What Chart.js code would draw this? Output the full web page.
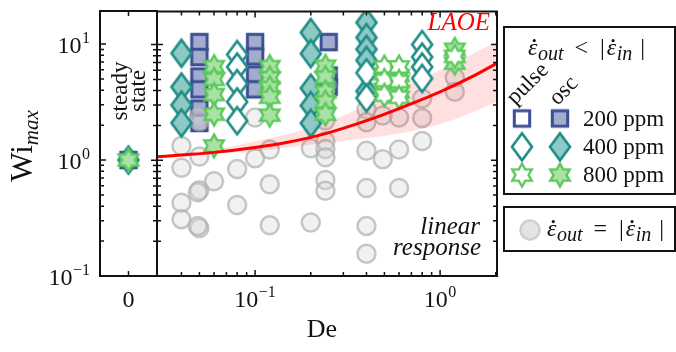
<!DOCTYPE html>
<html>
<head>
<meta charset="utf-8">
<script src="https://cdn.jsdelivr.net/npm/chart.js@4.4.1/dist/chart.umd.min.js"></script>
<style>
  body { margin: 0; background: #fff; }
  #wrap { position: relative; width: 676px; height: 352px; }
  #wrap canvas { position: absolute; left: 0; top: 0; }
</style>
</head>
<body>
<div id="wrap">
  <canvas id="steady" width="676" height="352"></canvas>
  <canvas id="main" width="676" height="352"></canvas>
</div>
<script>
// axis ranges
const deRange = [0.0295, 2.03];
const wiRange = [0.1, 19.3];

// tick positions
const wiMajor = [0.1, 1, 10];
const wiMinor = [0.2, 0.3, 0.4, 0.5, 0.6, 0.7, 0.8, 0.9, 2, 3, 4, 5, 6, 7, 8, 9];
const deMajor = [0.1, 1];
const deMinor = [0.04, 0.05, 0.06, 0.07, 0.08, 0.09, 0.2, 0.3, 0.4, 0.5, 0.6, 0.7, 0.8, 0.9, 2];

// steady state runs, plotted at De = 0
const steadyDe = [0];
const steadyWi = [1.0];

// 200 ppm, oscillatory
const osc200De = [0.05, 0.05, 0.05, 0.05, 0.05, 0.05, 0.1, 0.1, 0.1, 0.1, 0.25, 0.25, 0.25];
const osc200Wi = [10.5, 7.8, 5.3, 4.1, 2.8, 2.1, 10.5, 7.9, 5.5, 4.1, 10.5, 5.4, 4.3];

// 400 ppm, oscillatory
const osc400De = [0.04, 0.04, 0.04, 0.04, 0.2, 0.2, 0.2, 0.2, 0.2, 0.4, 0.4, 0.4, 0.4, 0.4];
const osc400Wi = [8.4, 4.3, 3.0, 2.1, 12.7, 8.35, 4.2, 2.97, 2.09, 15.5, 11.5, 9.1, 7.3, 3.95];

// 400 ppm, pulse
const pulse400De = [0.08, 0.08, 0.08, 0.08, 0.08, 0.4, 0.4, 0.8, 0.8, 0.8, 0.8];
const pulse400Wi = [8.2, 6.4, 4.6, 3.2, 2.2, 5.7, 3.45, 10.0, 7.8, 6.4, 5.1];

// 800 ppm, oscillatory
const osc800De = [0.06, 0.06, 0.06, 0.06, 0.06, 0.12, 0.12, 0.12, 0.12, 0.12,
                  0.24, 0.24, 0.24, 0.24, 0.24, 0.5, 0.5, 0.6, 0.6, 1.2, 1.2];
const osc800Wi = [6.45, 5.0, 3.7, 2.5, 1.33, 6.45, 5.15, 4.25, 3.5, 2.45,
                  6.5, 5.2, 3.9, 3.2, 2.5, 5.6, 4.1, 5.4, 3.9, 9.1, 6.9];

// 800 ppm, pulse
const pulse800De = [0.5, 0.5, 0.5, 0.6, 0.6, 0.6, 1.2];
const pulse800Wi = [6.4, 4.9, 3.65, 6.4, 4.8, 3.5, 7.9];

// outflow equal to inflow (linear response runs)
const linDe = [0.04, 0.04, 0.04, 0.04, 0.05, 0.05, 0.05, 0.05, 0.049, 0.05, 0.049,
               0.06, 0.08, 0.08, 0.1, 0.1, 0.12, 0.12, 0.12, 0.2, 0.2,
               0.24, 0.24, 0.24, 0.24, 0.24, 0.24, 0.24,
               0.4, 0.4, 0.4, 0.4, 0.4, 0.4, 0.49, 0.49, 0.6, 0.6, 0.6, 0.8, 0.8, 0.8, 1.2, 1.2];
const linWi = [1.33, 0.86, 0.43, 0.31, 2.39, 2.17, 1.08, 0.55, 0.53, 0.26, 0.27,
               0.66, 0.84, 0.41, 2.34, 1.04, 1.24, 0.62, 0.275, 1.27, 0.29,
               2.79, 2.21, 1.46, 1.25, 1.06, 0.675, 0.544,
               2.74, 2.13, 1.21, 0.576, 0.271, 0.156, 2.44, 1.02, 2.34, 1.24, 0.576, 3.42, 2.32, 1.47, 5.18, 3.91];

// LAOE prediction and its band
const laoeDe = [0.0295, 0.04, 0.06, 0.1, 0.15, 0.24, 0.4, 0.6, 1.0, 1.5, 2.03];
const laoeWi = [1.07, 1.11, 1.17, 1.29, 1.43, 1.70, 2.2, 2.8, 3.9, 5.3, 6.9];
const bandDe = [0.05, 0.1, 0.24, 0.4, 0.6, 1.0, 1.5, 2.03];
const bandHi = [1.17, 1.45, 2.1, 3.0, 4.2, 6.0, 8.3, 10.6];
const bandLo = [1.12, 1.2, 1.42, 1.55, 1.7, 2.05, 2.6, 3.2];

const FONT = '"Liberation Serif", "Times New Roman", serif';
const INK = '#121212';
const NAVY = '#3b4f93', NAVY_FILL = '#a3abcf';
const TEAL = '#1f8c86', TEAL_FILL = '#8ecac5';
const GREEN = '#5cc95c', GREEN_FILL = '#a9e2a4';

const pts = (xs, ys) => xs.map((x, i) => ({ x, y: ys[i] }));

// marker sprites used as point styles
function sprite(w, h, draw) {
  const c = document.createElement('canvas');
  c.width = w; c.height = h;
  const g = c.getContext('2d');
  g.lineJoin = 'miter';
  draw(g, w / 2, h / 2);
  return c;
}
const square = fill => sprite(22, 22, (g, cx, cy) => {
  g.beginPath(); g.rect(cx - 7.7, cy - 7.7, 15.4, 15.4);
  g.fillStyle = fill; g.fill();
  g.lineWidth = 3; g.strokeStyle = NAVY; g.stroke();
});
const diamond = fill => sprite(28, 38, (g, cx, cy) => {
  g.beginPath();
  g.moveTo(cx, cy - 13.5); g.lineTo(cx + 10, cy); g.lineTo(cx, cy + 13.5); g.lineTo(cx - 10, cy);
  g.closePath();
  g.fillStyle = fill; g.fill();
  g.lineWidth = 2.6; g.strokeStyle = TEAL; g.stroke();
});
const star = fill => sprite(32, 32, (g, cx, cy) => {
  const R = 11.3, r = R / Math.sqrt(3);
  g.beginPath();
  for (let k = 0; k < 12; k++) {
    const a = -Math.PI / 2 + k * Math.PI / 6, rr = k % 2 ? r : R;
    const px = cx + rr * Math.cos(a), py = cy + rr * Math.sin(a);
    k ? g.lineTo(px, py) : g.moveTo(px, py);
  }
  g.closePath();
  g.fillStyle = fill; g.fill();
  g.lineWidth = 2.4; g.strokeStyle = GREEN; g.stroke();
});
const sqOpen = square('#fff'), sqFill = square(NAVY_FILL);
const diOpen = diamond('#fff'), diFill = diamond(TEAL_FILL);
const stOpen = star('#fff'), stFill = star(GREEN_FILL);

const font = (s, it) => (it ? 'italic ' : '') + s + 'px ' + FONT;

// draws a row of text pieces with their own size, slant, offset and trailing gap
function drawRuns(ctx, parts, x, y, align) {
  let w = 0;
  parts.forEach(p => { ctx.font = font(p.s, p.i); p.w = ctx.measureText(p.t).width; w += p.w + (p.gap || 0); });
  let cx = align === 'center' ? x - w / 2 : align === 'right' ? x - w : x;
  ctx.textAlign = 'left'; ctx.textBaseline = 'alphabetic';
  parts.forEach(p => {
    ctx.font = font(p.s, p.i);
    ctx.fillText(p.t, cx, y + (p.dy || 0));
    if (p.dot) {
      ctx.beginPath();
      ctx.arc(cx + p.w * 0.66, y - p.s * 0.6, p.s * 0.065, 0, Math.PI * 2);
      ctx.fill();
    }
    cx += p.w + (p.gap || 0);
  });
}
const rate = (sub, gap) => [{ t: 'ε', s: 24, i: true, dot: true, gap: 0.5 }, { t: sub, s: 20, i: true, dy: 5, gap }];
const rateRow = rel => [...rate('out', 11), { t: rel, s: 24, gap: 12 }, { t: '|', s: 24, gap: 2 },
                        ...rate('in', 8), { t: '|', s: 24 }];
function pow10(ctx, exp, x, base, align) {
  drawRuns(ctx, [{ t: '10', s: 24, gap: 0.5 }, { t: exp, s: 16, dy: -10 }], x, base, align);
}

const steadyDecor = {
  id: 'steadyDecor',
  afterDraw(chart) {
    const ctx = chart.ctx, a = chart.chartArea;
    const xs = chart.scales.x, ys = chart.scales.y;
    ctx.save();
    ctx.strokeStyle = INK; ctx.fillStyle = INK;
    ctx.lineWidth = 2;
    ctx.strokeRect(a.left, a.top, a.right - a.left, a.bottom - a.top);
    ctx.lineWidth = 1.5;
    ctx.beginPath();
    const yt = (v, len) => { const p = ys.getPixelForValue(v); ctx.moveTo(a.left, p); ctx.lineTo(a.left + len, p); };
    wiMajor.forEach(v => yt(v, 6));
    wiMinor.forEach(v => yt(v, 4));
    steadyDe.forEach(v => {
      const p = xs.getPixelForValue(v);
      ctx.moveTo(p, a.bottom); ctx.lineTo(p, a.bottom - 5);
      ctx.moveTo(p, a.top); ctx.lineTo(p, a.top + 5);
    });
    ctx.stroke();

    // y tick labels
    const exps = { 0.1: '\u22121', 1: '0', 10: '1' };
    wiMajor.forEach(v => pow10(ctx, exps[v], 90, ys.getPixelForValue(v) + 8.5, 'right'));
    // x tick label
    drawRuns(ctx, [{ t: '0', s: 24 }], xs.getPixelForValue(0), 306.5, 'center');

    // y axis title
    ctx.save();
    ctx.translate(32, 146); ctx.rotate(-Math.PI / 2);
    drawRuns(ctx, [{ t: 'Wi', s: 31 }, { t: 'max', s: 21, i: true, dy: 6 }], 0, 0, 'center');
    ctx.restore();

    // panel caption
    ctx.save();
    ctx.translate((a.left + a.right) / 2, 91); ctx.rotate(-Math.PI / 2);
    drawRuns(ctx, [{ t: 'steady', s: 23 }], 0, -2, 'center');
    drawRuns(ctx, [{ t: 'state', s: 23 }], 0, 16, 'center');
    ctx.restore();
    ctx.restore();
  }
};

const mainDecor = {
  id: 'mainDecor',
  afterDraw(chart) {
    const ctx = chart.ctx, a = chart.chartArea;
    const xs = chart.scales.x, ys = chart.scales.y;
    ctx.save();
    ctx.strokeStyle = INK; ctx.fillStyle = INK;
    ctx.lineWidth = 2;
    ctx.strokeRect(a.left, a.top, a.right - a.left, a.bottom - a.top);
    ctx.lineWidth = 1.5;
    ctx.beginPath();
    const yt = (v, len) => {
      const p = ys.getPixelForValue(v);
      ctx.moveTo(a.left - len, p); ctx.lineTo(a.left + len, p);
      ctx.moveTo(a.right, p); ctx.lineTo(a.right - len, p);
    };
    wiMajor.forEach(v => yt(v, 6));
    wiMinor.forEach(v => yt(v, 4));
    const xt = (v, len) => {
      const p = xs.getPixelForValue(v);
      ctx.moveTo(p, a.bottom); ctx.lineTo(p, a.bottom - len);
      ctx.moveTo(p, a.top); ctx.lineTo(p, a.top + len);
    };
    deMajor.forEach(v => xt(v, 6));
    deMinor.forEach(v => xt(v, 4));
    ctx.stroke();

    // x tick labels and title
    const exps = { 0.1: '\u22121', 1: '0' };
    deMajor.forEach(v => pow10(ctx, exps[v], xs.getPixelForValue(v), 306.5, 'center'));
    drawRuns(ctx, [{ t: 'De', s: 26 }], (a.left + a.right) / 2 - 5, 337, 'center');

    // annotations
    ctx.fillStyle = '#ff0000';
    drawRuns(ctx, [{ t: 'LAOE', s: 25, i: true }], 490, 30, 'right');
    ctx.fillStyle = INK;
    drawRuns(ctx, [{ t: 'linear', s: 25, i: true }], 480, 234, 'right');
    drawRuns(ctx, [{ t: 'response', s: 25, i: true }], 481, 255, 'right');

    // legend: flow-restricted runs
    ctx.lineWidth = 2;
    ctx.strokeRect(504, 27, 171, 167);
    drawRuns(ctx, rateRow('<'), 528, 55, 'left');
    [['pulse', 528, 84], ['osc', 564, 91]].forEach(([t, x, y]) => {
      ctx.save();
      ctx.translate(x, y); ctx.rotate(-Math.PI / 4);
      drawRuns(ctx, [{ t, s: 23 }], 0, 6, 'center');
      ctx.restore();
    });
    const rows = [[sqOpen, sqFill, '200 ppm'], [diOpen, diFill, '400 ppm'], [stOpen, stFill, '800 ppm']];
    rows.forEach(([o, f, label], i) => {
      const y = 118.5 + i * 28.3;
      ctx.drawImage(o, 522 - o.width / 2, y - o.height / 2);
      ctx.drawImage(f, 560 - f.width / 2, y - f.height / 2);
      drawRuns(ctx, [{ t: label, s: 23 }], 583, y + 7, 'left');
    });

    // legend: free-flow runs
    ctx.strokeRect(504, 207, 171, 44);
    ctx.beginPath();
    ctx.arc(530, 230, 9.5, 0, Math.PI * 2);
    ctx.fillStyle = '#e4e4e4'; ctx.fill();
    ctx.strokeStyle = '#cfcfcf'; ctx.lineWidth = 2.5; ctx.stroke();
    ctx.fillStyle = INK;
    drawRuns(ctx, rateRow('='), 547, 236, 'left');
    ctx.restore();
  }
};

const common = {
  responsive: false,
  animation: false,
  events: [],
  devicePixelRatio: 1,
  plugins: { legend: { display: false }, tooltip: { enabled: false } }
};

new Chart(document.getElementById('steady'), {
  type: 'scatter',
  data: {
    datasets: [
      { data: pts(steadyDe, steadyWi), pointStyle: stFill, pointRadius: 10, order: 1 },
      { data: pts(steadyDe, steadyWi), pointStyle: diFill, pointRadius: 10, order: 2 },
      { data: pts(steadyDe, steadyWi), pointStyle: sqFill, pointRadius: 10, order: 3 }
    ]
  },
  options: {
    ...common,
    layout: { padding: { left: 100, right: 519, top: 4, bottom: 76 } },
    scales: {
      x: { type: 'linear', min: -1, max: 1, display: false },
      y: { type: 'logarithmic', min: wiRange[0], max: wiRange[1], display: false }
    }
  },
  plugins: [steadyDecor]
});

new Chart(document.getElementById('main'), {
  type: 'scatter',
  data: {
    datasets: [
      { type: 'line', data: pts(laoeDe, laoeWi), borderColor: '#ff0000', borderWidth: 3,
        pointRadius: 0, cubicInterpolationMode: 'monotone', fill: false, order: 0 },
      { data: pts(pulse800De, pulse800Wi), pointStyle: stOpen, pointRadius: 10, order: 1 },
      { data: pts(osc800De, osc800Wi), pointStyle: stFill, pointRadius: 10, order: 1 },
      { data: pts(pulse400De, pulse400Wi), pointStyle: diOpen, pointRadius: 10, order: 2 },
      { data: pts(osc400De, osc400Wi), pointStyle: diFill, pointRadius: 10, order: 2 },
      { type: 'line', data: pts(bandDe, bandHi), borderWidth: 0, pointRadius: 0,
        backgroundColor: 'rgba(255,0,0,0.12)', fill: '+1', cubicInterpolationMode: 'monotone', order: 3 },
      { type: 'line', data: pts(bandDe, bandLo), borderWidth: 0, pointRadius: 0,
        fill: false, cubicInterpolationMode: 'monotone', order: 3 },
      { data: pts(linDe, linWi), pointStyle: 'circle', pointRadius: 9, pointBorderWidth: 2.5,
        pointBackgroundColor: 'rgba(215,215,215,0.35)', pointBorderColor: 'rgba(175,175,175,0.7)', order: 4 },
      { data: pts(osc200De, osc200Wi), pointStyle: sqFill, pointRadius: 10, order: 5 }
    ]
  },
  options: {
    ...common,
    layout: { padding: { left: 157, right: 179, top: 4, bottom: 76 } },
    scales: {
      x: { type: 'logarithmic', min: deRange[0], max: deRange[1], display: false },
      y: { type: 'logarithmic', min: wiRange[0], max: wiRange[1], display: false }
    }
  },
  plugins: [mainDecor]
});
</script>
</body>
</html>
